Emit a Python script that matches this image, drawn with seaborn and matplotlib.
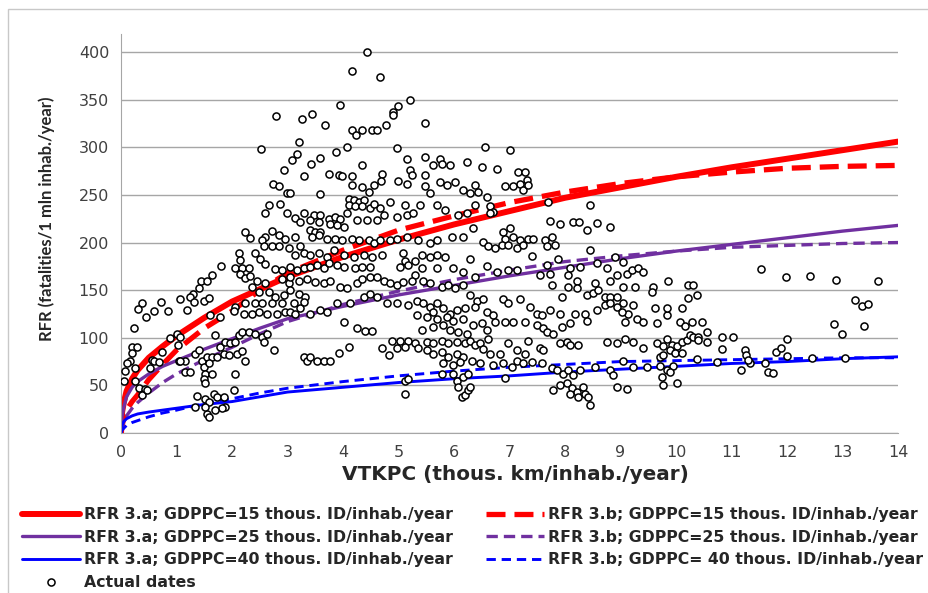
import matplotlib
matplotlib.use("Agg")
import matplotlib.pyplot as plt
from matplotlib.patches import Rectangle
import seaborn as sns
import pandas as pd

# model curves
curve_x = [0, 0.02, 0.05, 0.1, 0.2, 0.3, 0.5, 0.75, 1, 1.5, 2, 2.5, 3,
           4, 5, 6, 7, 8, 9, 10, 11, 12, 13, 14]
rfr_a15 = [0, 22, 32, 44, 57, 66, 79, 91, 102, 121, 138, 151, 164,
           185, 203, 219, 233, 247, 258, 269, 279, 288, 297, 306]
rfr_b15 = [0, 8, 15, 24, 33, 40, 56, 72, 87, 110, 128, 150, 168,
           192, 213, 228, 242, 253, 262, 269, 274, 278, 280, 281]
rfr_a25 = [0, 18, 27, 38, 48, 54, 62, 70, 76, 88, 99, 110, 120,
           133, 145, 155, 165, 174, 183, 191, 198, 205, 212, 218]
rfr_b25 = [0, 7, 12, 18, 26, 32, 42, 53, 62, 77, 90, 104, 117,
           135, 149, 161, 171, 180, 186, 191, 195, 197, 199, 200]
rfr_a40 = [0, 8, 12, 15, 18, 20, 22, 24, 26, 30, 33, 38, 43,
           48, 53, 57, 60, 64, 67, 70, 73, 75, 78, 80]
rfr_b40 = [0, 3, 5, 8, 11, 13, 17, 21, 24, 31, 36, 42, 47,
           54, 60, 65, 69, 72, 75, 76, 77, 78, 79, 79]

# actual dates (x, y), grouped by x range
pts_left = [
    (2.53, 298), (2.93, 276), (2.74, 262), (2.84, 259), (3.0, 252), (2.67, 239), (2.87, 240),
    (2.6, 231), (3.0, 231), (2.24, 211), (2.33, 205), (2.72, 212), (2.6, 206), (2.84, 208),
    (2.96, 204), (2.54, 203), (2.57, 196), (2.72, 196), (2.84, 196), (3.02, 194), (2.12, 189),
    (2.14, 182), (2.42, 189), (2.51, 183), (2.6, 177), (1.8, 175), (2.06, 173), (2.18, 173),
    (2.3, 173), (2.15, 167), (2.24, 163), (2.33, 165), (2.45, 160), (2.6, 157), (2.78, 172),
    (2.9, 171), (2.9, 162), (3.02, 157), (2.36, 153), (2.48, 148), (2.66, 148), (2.78, 143),
    (2.93, 145), (2.24, 136), (2.42, 136), (2.54, 136), (2.72, 136), (2.9, 136), (2.06, 132),
    (2.21, 125), (2.36, 125), (2.48, 127), (2.63, 125), (2.81, 125), (2.96, 127), (1.29, 146),
    (1.4, 152), (1.25, 143), (1.31, 138), (1.45, 160), (1.55, 160), (1.64, 166), (1.49, 139),
    (1.07, 141), (1.19, 129), (1.58, 142), (1.61, 124), (1.79, 122), (2.03, 128), (0.38, 137),
    (0.3, 130), (0.45, 122), (0.59, 128), (0.72, 138), (0.84, 128), (0.23, 110), (0.19, 90),
    (0.29, 90), (0.2, 84), (0.17, 76), (0.11, 74), (0.07, 65), (0.06, 55), (0.26, 68),
    (0.26, 55), (0.32, 47), (0.43, 46), (0.38, 40), (0.46, 45), (0.56, 77), (0.59, 76),
    (0.68, 75), (0.53, 68), (0.74, 85), (0.89, 100), (1.01, 104), (1.07, 101), (1.03, 92),
    (1.04, 76), (1.16, 64), (1.25, 64), (1.33, 83), (1.4, 87), (1.46, 76), (1.55, 80),
    (1.64, 80), (1.49, 69), (1.58, 73), (1.52, 62), (1.49, 57), (1.52, 52), (1.64, 62),
    (1.73, 80), (1.7, 103), (1.79, 90), (1.88, 96), (1.97, 94), (2.06, 96), (1.85, 83),
    (1.94, 82), (2.09, 83), (2.18, 86), (2.24, 76), (2.12, 103), (2.18, 106), (2.3, 106),
    (2.42, 104), (2.54, 101), (2.63, 104), (2.57, 96), (2.75, 87), (2.06, 62), (2.03, 45),
    (1.37, 39), (1.52, 36), (1.58, 33), (1.67, 41), (1.73, 38), (1.85, 38), (1.88, 27),
    (1.82, 26), (1.7, 24), (1.55, 20), (1.58, 17), (1.34, 27), (1.52, 27), (1.16, 76),
    (1.07, 76),
]
pts_mid = [
    (3.2, 306), (3.17, 293), (3.08, 287), (3.59, 289), (3.42, 282), (3.87, 295), (4.08, 300),
    (3.29, 270), (3.74, 272), (3.92, 271), (3.99, 270), (4.17, 270), (4.35, 281), (4.7, 272),
    (4.68, 265), (4.97, 299), (5.15, 288), (5.21, 276), (5.24, 271), (5.15, 262), (5.0, 265),
    (5.48, 290), (5.63, 281), (5.75, 288), (5.78, 283), (5.93, 281), (5.48, 271), (5.48, 259),
    (5.57, 252), (5.75, 264), (5.87, 260), (6.02, 264), (6.17, 255), (6.23, 285), (4.16, 260),
    (4.34, 258), (4.46, 253), (4.55, 260), (3.59, 251), (3.05, 252), (4.1, 246), (4.19, 245),
    (4.28, 243), (4.37, 245), (4.1, 239), (4.22, 238), (4.34, 238), (4.49, 236), (4.67, 236),
    (4.55, 241), (4.85, 243), (5.12, 239), (5.39, 239), (4.73, 229), (4.97, 227), (5.15, 229),
    (5.27, 231), (5.69, 239), (5.84, 234), (6.08, 229), (6.23, 231), (3.29, 231), (3.47, 229),
    (3.59, 229), (3.74, 225), (3.86, 227), (3.95, 225), (4.07, 231), (4.25, 224), (4.43, 224),
    (4.61, 224), (3.14, 226), (3.23, 222), (3.41, 224), (3.56, 222), (3.77, 220), (3.89, 218),
    (4.01, 216), (3.41, 213), (3.5, 211), (3.59, 211), (3.44, 206), (3.56, 208), (3.71, 204),
    (3.86, 204), (3.98, 203), (4.16, 204), (4.28, 203), (4.46, 203), (4.55, 199), (4.67, 203),
    (4.85, 203), (4.97, 204), (5.15, 206), (5.36, 203), (5.57, 199), (5.69, 203), (5.96, 206),
    (6.17, 206), (3.14, 206), (3.23, 196), (3.14, 187), (3.29, 189), (3.41, 187), (3.56, 189),
    (3.71, 185), (3.83, 192), (4.01, 187), (4.19, 185), (4.37, 187), (4.52, 185), (4.7, 187),
    (5.09, 189), (5.12, 181), (5.03, 174), (5.18, 176), (5.3, 181), (5.42, 187), (5.57, 185),
    (5.69, 187), (5.84, 185), (5.3, 166), (5.42, 173), (5.69, 173), (5.99, 173), (6.17, 169),
    (3.05, 174), (3.17, 171), (3.29, 173), (3.41, 174), (3.53, 176), (3.65, 173), (3.74, 178),
    (3.89, 176), (4.01, 174), (4.22, 173), (4.34, 174), (4.49, 174), (3.05, 164), (3.2, 160),
    (3.35, 162), (3.5, 159), (3.65, 157), (3.77, 160), (3.95, 153), (4.07, 152), (4.25, 157),
    (4.34, 162), (4.49, 164), (4.61, 164), (4.73, 160), (4.85, 157), (4.97, 155), (5.09, 159),
    (5.24, 160), (5.45, 160), (5.57, 157), (5.78, 153), (5.9, 155), (6.02, 152), (6.17, 155),
    (3.05, 150), (3.2, 146), (3.32, 143), (3.11, 136), (3.23, 131), (3.05, 127), (3.14, 125),
    (3.29, 138), (3.89, 136), (4.13, 136), (4.37, 143), (4.49, 146), (4.61, 143), (4.79, 136),
    (4.97, 136), (5.18, 134), (3.41, 125), (3.59, 129), (3.71, 127), (4.01, 117), (5.33, 139),
    (5.45, 136), (5.57, 132), (5.69, 136), (5.63, 127), (5.81, 131), (5.93, 125), (6.05, 129),
    (6.2, 131), (5.33, 124), (5.51, 122), (5.69, 120), (5.87, 122), (5.99, 118), (6.17, 120),
    (4.25, 110), (4.4, 107), (4.52, 107), (5.42, 108), (5.63, 111), (5.81, 113), (5.93, 108),
    (6.08, 106), (6.23, 104), (4.88, 97), (5.03, 97), (5.18, 97), (5.3, 94), (5.51, 96),
    (5.63, 94), (5.78, 97), (5.9, 94), (6.05, 96), (6.2, 94), (4.1, 90), (3.92, 84), (4.7, 89),
    (4.82, 82), (4.97, 89), (5.12, 90), (5.36, 89), (5.51, 87), (5.63, 83), (5.78, 85),
    (5.9, 80), (6.05, 83), (6.17, 80), (3.29, 80), (3.35, 76), (3.41, 80), (3.53, 76),
    (3.65, 76), (3.77, 76), (5.81, 73), (5.99, 71), (6.11, 75), (5.78, 62), (5.99, 62),
    (6.05, 55), (6.17, 59), (6.26, 62), (6.08, 48), (6.14, 38), (6.2, 40), (6.26, 45),
    (5.12, 55), (5.18, 57), (5.12, 41),
]
pts_top = [
    (2.79, 333), (4.44, 400), (4.17, 380), (4.67, 374), (3.95, 344), (5.21, 350), (4.99, 343),
    (4.9, 337), (4.9, 334), (3.27, 330), (3.44, 335), (3.68, 323), (4.17, 318), (4.35, 318),
    (4.53, 318), (4.62, 318), (4.24, 313), (4.78, 323), (5.48, 326),
]
pts_right = [
    (6.56, 300), (7.01, 297), (6.51, 279), (6.77, 277), (7.16, 274), (7.28, 274), (7.31, 266),
    (7.19, 262), (7.25, 255), (7.34, 260), (6.92, 259), (7.07, 259), (6.38, 260), (6.44, 253),
    (6.59, 248), (6.38, 239), (6.65, 238), (6.71, 232), (6.65, 231), (7.7, 243), (8.45, 239),
    (6.29, 252), (6.35, 215), (7.73, 223), (7.91, 219), (8.15, 222), (8.26, 222), (8.39, 213),
    (8.57, 221), (8.81, 216), (6.89, 211), (7.01, 215), (6.92, 204), (7.07, 206), (7.19, 203),
    (7.34, 204), (7.43, 204), (7.64, 203), (7.76, 206), (6.53, 201), (6.62, 196), (6.74, 194),
    (6.86, 197), (6.98, 197), (7.13, 194), (7.25, 197), (7.4, 186), (7.67, 196), (7.82, 197),
    (8.45, 192), (7.88, 183), (6.29, 183), (6.38, 164), (6.59, 175), (6.77, 169), (6.98, 171),
    (7.13, 171), (7.55, 166), (7.67, 176), (7.73, 167), (8.09, 173), (8.27, 174), (8.57, 178),
    (8.75, 173), (8.9, 185), (9.05, 180), (8.06, 166), (8.21, 160), (8.39, 145), (8.54, 157),
    (8.81, 160), (8.93, 166), (9.11, 167), (9.2, 171), (9.32, 173), (9.41, 169), (9.05, 153),
    (9.26, 153), (9.59, 153), (9.56, 148), (7.76, 155), (7.94, 143), (8.06, 153), (8.21, 152),
    (8.51, 147), (8.6, 150), (8.72, 143), (8.81, 143), (8.93, 143), (9.05, 136), (9.23, 134),
    (9.14, 125), (6.29, 145), (6.41, 139), (6.53, 141), (6.38, 132), (6.59, 127), (6.71, 124),
    (6.89, 141), (6.98, 136), (7.19, 141), (7.37, 132), (7.49, 125), (7.58, 124), (7.73, 129),
    (7.91, 125), (8.09, 115), (8.18, 125), (8.36, 125), (8.39, 118), (8.57, 129), (8.72, 134),
    (8.81, 136), (8.93, 132), (9.02, 127), (9.08, 117), (9.29, 120), (9.41, 117), (9.65, 115),
    (9.83, 124), (6.35, 113), (6.5, 115), (6.59, 108), (6.74, 117), (6.92, 117), (7.07, 117),
    (7.28, 117), (7.49, 113), (7.61, 110), (7.67, 106), (7.79, 104), (7.94, 111), (6.29, 97),
    (6.38, 92), (6.47, 94), (6.62, 99), (6.53, 88), (6.65, 83), (6.83, 83), (6.98, 94),
    (7.13, 87), (7.28, 83), (7.34, 97), (7.55, 89), (7.61, 87), (7.91, 94), (8.03, 96),
    (8.09, 92), (8.24, 92), (8.75, 96), (8.93, 94), (9.08, 99), (9.23, 96), (9.41, 89),
    (9.65, 94), (6.32, 76), (6.47, 73), (6.71, 71), (6.89, 73), (7.04, 69), (7.13, 76),
    (7.25, 73), (7.4, 75), (7.58, 73), (7.76, 68), (7.85, 66), (7.97, 62), (8.06, 66),
    (8.15, 61), (8.27, 66), (8.54, 69), (8.81, 66), (9.05, 76), (9.23, 69), (9.47, 69),
    (9.71, 80), (6.29, 48), (6.92, 58), (7.79, 45), (7.91, 50), (8.03, 52), (8.12, 47),
    (8.21, 43), (8.33, 48), (8.36, 41), (8.42, 38), (8.45, 29), (8.24, 38), (8.09, 41),
    (8.87, 61), (8.93, 48), (9.11, 46), (9.77, 50), (9.74, 59),
]
pts_far = [
    (9.86, 160), (10.22, 155), (10.31, 155), (10.22, 142), (10.37, 145), (10.1, 131),
    (9.83, 131), (9.62, 131), (10.07, 117), (10.16, 112), (10.28, 117), (10.46, 117),
    (10.55, 106), (9.83, 99), (9.92, 92), (10.01, 91), (10.1, 96), (10.19, 98), (10.25, 103),
    (10.31, 101), (10.4, 101), (10.4, 98), (10.55, 96), (9.77, 91), (9.89, 87), (9.77, 82),
    (9.98, 84), (10.1, 84), (10.37, 78), (9.95, 70), (10.01, 52), (9.71, 70), (9.83, 66),
    (9.89, 64), (10.82, 101), (11.03, 101), (10.82, 88), (10.73, 75), (11.24, 87), (11.27, 82),
    (11.33, 73), (11.3, 77), (11.18, 66), (11.6, 73), (11.66, 64), (11.75, 63), (11.53, 172),
    (11.81, 85), (11.9, 89), (12.0, 99), (12.0, 81), (11.98, 164), (12.41, 165), (12.88, 161),
    (12.45, 79), (13.05, 79), (12.84, 114), (12.99, 104), (13.39, 112), (13.23, 140),
    (13.36, 133), (13.46, 135), (13.64, 160),
]

lab_a15 = "RFR 3.a; GDPPC=15 thous. ID/inhab./year"
lab_b15 = "RFR 3.b; GDPPC=15 thous. ID/inhab./year"
lab_a25 = "RFR 3.a; GDPPC=25 thous. ID/inhab./year"
lab_b25 = "RFR 3.b; GDPPC=25 thous. ID/inhab./year"
lab_a40 = "RFR 3.a; GDPPC=40 thous. ID/inhab./year"
lab_b40 = "RFR 3.b; GDPPC= 40 thous. ID/inhab./year"

sns.set_style("white")
plt.rcParams['font.family'] = ['DejaVu Sans']

fig = plt.figure(figsize=(9.29, 5.93), dpi=100)
ax = fig.add_axes([121 / 929, 1 - 433 / 593, (898 - 121) / 929, (433 - 34) / 593])

red, purple, blue = "#FF0000", "#7030A0", "#0000FF"
series = [
    (rfr_a15, red, 4.3, "-", lab_a15),
    (rfr_b15, red, 3.8, (0, (3.6, 1.7)), lab_b15),
    (rfr_a25, purple, 2.4, "-", lab_a25),
    (rfr_b25, purple, 2.4, (0, (3.4, 1.8)), lab_b25),
    (rfr_a40, blue, 2.1, "-", lab_a40),
    (rfr_b40, blue, 2.1, (0, (3.2, 2.0)), lab_b40),
]
for vals, col, lw, ls, lab in series:
    sns.lineplot(x=curve_x, y=vals, color=col, linewidth=lw, linestyle=ls,
                 label=lab, sort=False, estimator=None, ax=ax)

pts = pd.DataFrame(pts_left + pts_mid + pts_top + pts_right + pts_far, columns=["x", "y"])
sns.scatterplot(data=pts, x="x", y="y", marker="o", s=26, color="white",
                edgecolor="black", linewidth=1.1, label="Actual dates", zorder=5, ax=ax)

ax.get_legend().remove()
ax.set_xlim(0, 14)
ax.set_ylim(0, 419)
ax.set_xticks(range(0, 15))
ax.set_yticks(range(0, 401, 50))
ax.yaxis.grid(True, color="#a6a6a6", linewidth=1)
ax.set_axisbelow(True)
sns.despine(ax=ax, top=True, right=True)
for side in ["left", "bottom"]:
    ax.spines[side].set_color("#a6a6a6")
ax.tick_params(direction="out", length=5, width=1, color="#a6a6a6",
               labelsize=11.5, labelcolor="#404040")

ax.set_xlabel("VTKPC (thous. km/inhab./year)", fontsize=14.4, fontweight="bold",
              family="DejaVu Sans")
ax.xaxis.set_label_coords(0.508, -0.08)
ax.set_ylabel("RFR (fatalities/1 mln inhab./year)", fontsize=12, fontweight="bold",
              family="Lato")
ax.yaxis.set_label_coords(-0.085, 0.538)

handles, labels = ax.get_legend_handles_labels()
hmap = dict(zip(labels, handles))
leg_kw = dict(loc="upper left", frameon=False, handlelength=3.7, handletextpad=0.25,
              labelspacing=0.48, borderaxespad=0, borderpad=0,
              prop={"family": "DejaVu Sans", "weight": "bold", "size": 11.3})
fig.legend([hmap[lab_a15], hmap[lab_a25], hmap[lab_a40], hmap["Actual dates"]],
           [lab_a15, lab_a25, lab_a40, "Actual dates"],
           bbox_to_anchor=(22 / 929, 1 - 507 / 593), **leg_kw)
fig.legend([hmap[lab_b15], hmap[lab_b25], hmap[lab_b40]],
           [lab_b15, lab_b25, lab_b40],
           bbox_to_anchor=(486 / 929, 1 - 507 / 593), **leg_kw)

fig.add_artist(Rectangle((8 / 929, -0.05), 1.1, 1.05 - 9 / 593, transform=fig.transFigure,
                         fill=False, edgecolor="#c8c8c8", linewidth=1))

fig.savefig("out.png", dpi=100)
